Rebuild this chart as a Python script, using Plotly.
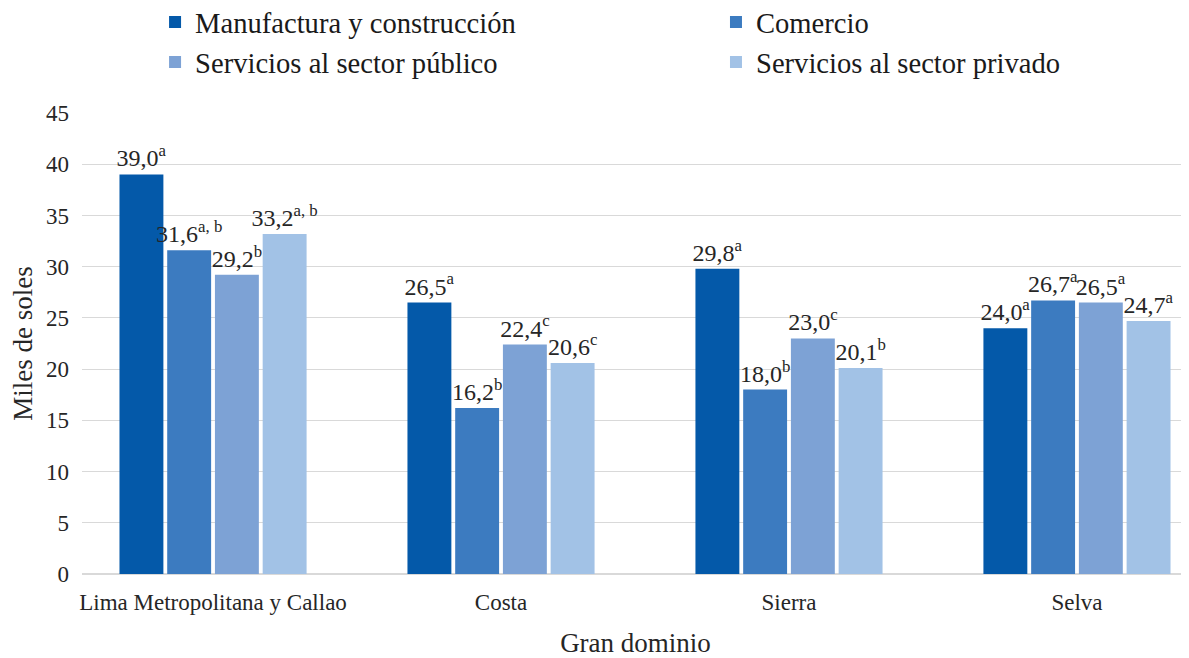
import plotly.graph_objects as go

categories = ["Lima Metropolitana y Callao", "Costa", "Sierra", "Selva"]
series_names = ["Manufactura y construcción", "Comercio",
                "Servicios al sector público", "Servicios al sector privado"]
manufactura = [39.0, 26.5, 29.8, 24.0]
comercio = [31.6, 16.2, 18.0, 26.7]
publico = [29.2, 22.4, 23.0, 26.5]
privado = [33.2, 20.6, 20.1, 24.7]
manufactura_sig = ["a", "a", "a", "a"]
comercio_sig = ["a, b", "b", "b", "a"]
publico_sig = ["b", "c", "c", "a"]
privado_sig = ["a, b", "c", "b", "a"]
y_ticks = [0, 5, 10, 15, 20, 25, 30, 35, 40, 45]

colors = ["#0459A9", "#3C7BC0", "#7DA2D5", "#A2C2E6"]
legend_of = ["legend", "legend2", "legend", "legend2"]
serif = "Liberation Serif"

def fmt(v, s):
    return f"{v:.1f}".replace(".", ",") + f"<sup>{s}</sup>"

fig = go.Figure()
for name, vals, sigs, col, lg in zip(series_names,
                                     [manufactura, comercio, publico, privado],
                                     [manufactura_sig, comercio_sig, publico_sig, privado_sig],
                                     colors, legend_of):
    fig.add_trace(go.Bar(
        x=categories, y=vals, name=name, legend=lg,
        marker=dict(color=col, line=dict(width=0)),
        text=[fmt(v, s) for v, s in zip(vals, sigs)],
        textposition="outside",
        constraintext="none",
        textfont=dict(family=serif, size=24, color="#262626"),
        cliponaxis=False,
    ))

legend_common = dict(orientation="v", yanchor="top", xanchor="left",
                     xref="paper", yref="paper", y=1.252,
                     font=dict(family=serif, size=28.6, color="#1a1a1a"),
                     traceorder="normal", itemwidth=30, tracegroupgap=0,
                     bgcolor="rgba(0,0,0,0)")

fig.update_layout(
    width=1181, height=650,
    margin=dict(l=74, r=0, t=105, b=84, autoexpand=False),
    paper_bgcolor="white", plot_bgcolor="white",
    barmode="group", bargap=0.337, bargroupgap=0.08,
    font=dict(family=serif, size=23, color="#262626"),
    legend=dict(x=0.066, **legend_common),
    legend2=dict(x=0.5727, **legend_common),
    xaxis=dict(range=[-0.455, 3.389], showgrid=False, showline=False, automargin=True,
               ticks="", tickfont=dict(family=serif, size=23, color="#262626"),
               ticklabelstandoff=12,
               title=dict(text="Gran dominio", font=dict(family=serif, size=27, color="#262626"),
                          standoff=30)),
    yaxis=dict(range=[0, 45], tickvals=y_ticks, showgrid=True, gridcolor="#d9d9d9",
               gridwidth=1, zeroline=True, zerolinecolor="#d9d9d9", ticks="", automargin=True,
               tickfont=dict(family=serif, size=23, color="#262626"), ticklabelstandoff=12,
               title=dict(text="Miles de soles", font=dict(family=serif, size=27, color="#262626"),
                          standoff=14)),
)
fig.write_html("out.html")
